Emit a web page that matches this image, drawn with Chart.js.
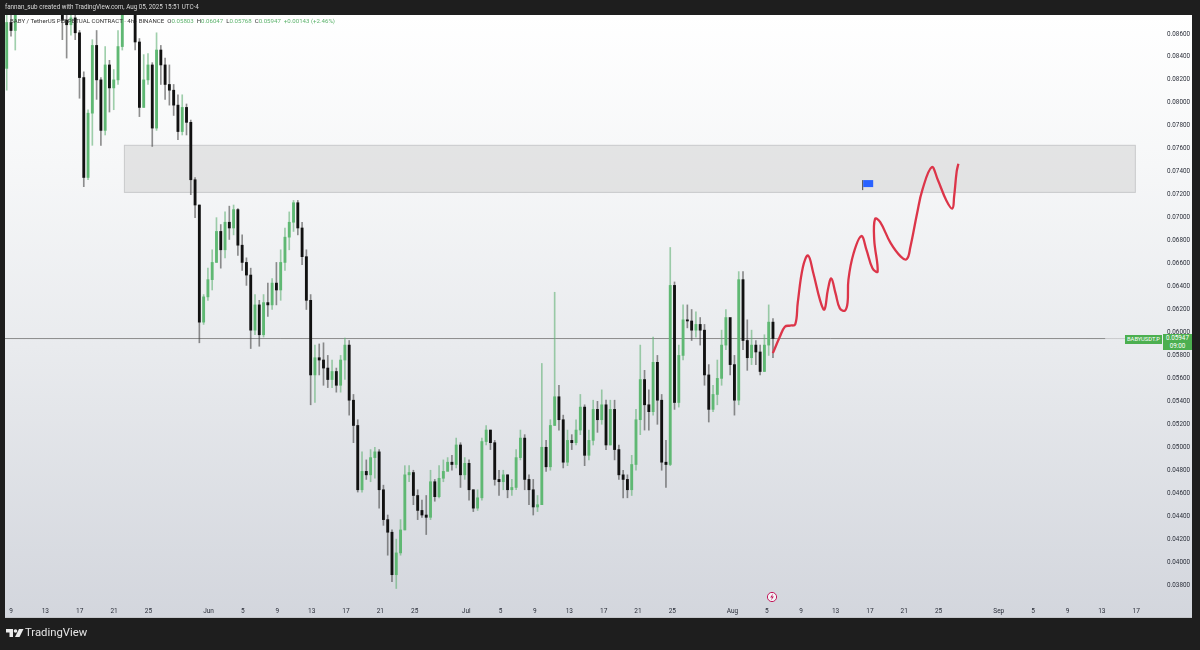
<!DOCTYPE html>
<html>
<head>
<meta charset="utf-8">
<title>BABYUSDT.P 4h</title>
<script src="https://cdn.jsdelivr.net/npm/chart.js@4"></script>
<style>
  html, body { margin: 0; padding: 0; background: #1e1e1e; overflow: hidden; }
  #wrap { position: relative; width: 1200px; height: 650px; background: #1e1e1e; font-family: Roboto, sans-serif; }
  #pane { position: absolute; left: 5px; top: 15px; width: 1187px; height: 603px; background: linear-gradient(#ffffff, #f6f7f8 25%, #e9ebee 55%, #d3d6dd); border-bottom: 1px solid #c4c6ca; box-sizing: border-box; }
  canvas { position: absolute; left: 0; top: 0; }
  .txt { position: absolute; white-space: nowrap; font-size: 6.3px; line-height: 8px; }
  #legend { font-size: 6.1px; }
  #legend b { font-weight: normal; color: #5cb36c; }
  .tag { position: absolute; background: #4caf50; color: #fff; font-size: 5.8px; text-align: center; }
</style>
</head>
<body>
<div id="wrap">
  <div id="pane"></div>
  <canvas id="chart" width="1200" height="650"></canvas>
  <div class="txt" style="left:5px;top:3px;color:#d8d8d8">fannan_sub created with TradingView.com, Aug 05, 2025 15:51 UTC-4</div>
  <div class="txt" id="legend" style="left:10px;top:17px;color:#333">BABY / TetherUS PERPETUAL CONTRACT · 4h · BINANCE &nbsp;O<b>0.05803</b> &nbsp;H<b>0.06047</b> &nbsp;L<b>0.05768</b> &nbsp;C<b>0.05947</b> &nbsp;<b>+0.00143 (+2.46%)</b></div>
  <div class="tag" style="left:1125px;top:335px;width:37px;height:9px;line-height:9px">BABYUSDT.P</div>
  <div class="tag" style="left:1163px;top:334px;width:29px;height:16px;line-height:7.5px;padding-top:1px;box-sizing:border-box;font-size:6.3px">0.05947<br>09:00</div>
  <svg style="position:absolute;left:766px;top:591px" width="12" height="12" viewBox="0 0 12 12">
    <circle cx="6" cy="6" r="4.6" fill="#f4f5f7" stroke="#c2185b" stroke-width="1"/>
    <path d="M7 2.5 L4.2 6.6 H6 L5 9.5 L7.9 5.4 H6.1 Z" fill="#c2185b"/>
  </svg>
  <svg style="position:absolute;left:6px;top:628px" width="18" height="10" viewBox="0 0 36 20">
    <path d="M0 2 H14 V18 H7 V9 H0 Z" fill="#ececec"/><circle cx="19" cy="6" r="3.6" fill="#ececec"/>
    <path d="M26 2 H35 L27 18 H18 Z" fill="#ececec"/>
  </svg>
  <div class="txt" style="left:25px;top:625px;color:#e6e6e6;font-size:11.3px;line-height:15px">TradingView</div>
</div>
<script>
// x axis is days counted from May 9
var tickDays = [0,4,8,12,16,23,27,31,35,39,43,47,53,57,61,65,69,73,77,84,88,92,96,100,104,108,115,119,123,127,131];
var tickNames = ['9','13','17','21','25','Jun','5','9','13','17','21','25','Jul','5','9','13','17','21','25','Aug','5','9','13','17','21','25','Sep','5','9','13','17'];

var firstDay = -0.5;
var barStep = 0.4984;
var firstOpen = 0.0830;

var closes = [
0.0870,0.0863,0.0879,0.0885,0.0890,0.0892,0.0888,0.0895,0.0890,0.0884,
0.0889,0.0893,0.0886,0.0872,0.0868,0.0874,0.0861,0.0822,0.0735,0.0791,
0.0850,0.0820,0.0776,0.0833,0.0813,0.0820,0.0849,0.0877,0.0885,0.0883,
0.0853,0.0796,0.0820,0.0833,0.0778,0.0846,0.0833,0.0816,0.0811,0.0798,
0.0775,0.0796,0.0783,0.0733,0.0711,0.0609,0.0631,0.0646,0.0661,0.0688,
0.0672,0.0696,0.0691,0.0707,0.0676,0.0661,0.0650,0.0602,0.0624,0.0598,
0.0626,0.0624,0.0643,0.0637,0.0661,0.0683,0.0696,0.0713,0.0691,0.0666,
0.0628,0.0563,0.0578,0.0576,0.0569,0.0559,0.0566,0.0554,0.0576,0.0589,
0.0541,0.0519,0.0463,0.0479,0.0476,0.0491,0.0496,0.0463,0.0437,0.0426,
0.0389,0.0408,0.0428,0.0476,0.0478,0.0458,0.0445,0.0441,0.0439,0.0470,
0.0457,0.0473,0.0479,0.0487,0.0485,0.0502,0.0476,0.0486,0.0463,0.0447,
0.0456,0.0505,0.0515,0.0504,0.0472,0.0470,0.0476,0.0463,0.0465,0.0491,
0.0508,0.0472,0.0463,0.0448,0.0450,0.0500,0.0483,0.0519,0.0544,0.0524,
0.0487,0.0506,0.0504,0.0515,0.0535,0.0493,0.0506,0.0533,0.0524,0.0537,
0.0502,0.0533,0.0498,0.0476,0.0472,0.0463,0.0485,0.0524,0.0559,0.0537,
0.0531,0.0574,0.0541,0.0487,0.0485,0.0641,0.0539,0.0580,0.0611,0.0610,
0.0602,0.0607,0.0602,0.0563,0.0533,0.0546,0.0560,0.0589,0.0613,0.0572,
0.0541,0.0646,0.0593,0.0578,0.0589,0.0583,0.0566,0.0589,0.0609,0.05947
];
var highs = [
0.0879,0.0881,0.0885,0.0890,0.0895,0.0897,0.0893,0.0900,0.0895,0.0889,
0.0894,0.0898,0.0891,0.0881,0.0881,0.0881,0.0881,0.0863,0.0827,0.0794,
0.0855,0.0863,0.0822,0.0849,0.0837,0.0829,0.0863,0.0883,0.0890,0.0890,
0.0885,0.0856,0.0842,0.0843,0.0835,0.0861,0.0850,0.0839,0.0833,0.0816,
0.0807,0.0807,0.0799,0.0785,0.0735,0.0711,0.0633,0.0656,0.0672,0.0700,
0.0694,0.0705,0.0710,0.0711,0.0708,0.0685,0.0665,0.0656,0.0633,0.0628,
0.0633,0.0643,0.0647,0.0661,0.0672,0.0691,0.0705,0.0715,0.0715,0.0696,
0.0672,0.0633,0.0589,0.0590,0.0591,0.0580,0.0576,0.0569,0.0580,0.0595,
0.0593,0.0546,0.0524,0.0496,0.0489,0.0498,0.0500,0.0498,0.0467,0.0441,
0.0428,0.0420,0.0437,0.0484,0.0484,0.0480,0.0463,0.0454,0.0458,0.0480,
0.0472,0.0484,0.0489,0.0491,0.0493,0.0508,0.0504,0.0491,0.0489,0.0463,
0.0463,0.0508,0.0519,0.0515,0.0506,0.0480,0.0480,0.0476,0.0472,0.0498,
0.0515,0.0511,0.0476,0.0472,0.0458,0.0573,0.0506,0.0524,0.0635,0.0554,
0.0528,0.0515,0.0511,0.0524,0.0546,0.0537,0.0515,0.0541,0.0540,0.0550,
0.0541,0.0541,0.0541,0.0502,0.0480,0.0476,0.0493,0.0533,0.0589,0.0567,
0.0550,0.0596,0.0580,0.0546,0.0506,0.0674,0.0644,0.0589,0.0624,0.0624,
0.0620,0.0618,0.0613,0.0607,0.0572,0.0554,0.0576,0.0602,0.0620,0.0611,
0.0580,0.0653,0.0653,0.0611,0.0602,0.0593,0.0589,0.0598,0.0624,0.0612
];
var lows = [
0.0811,0.0858,0.0846,0.0880,0.0884,0.0886,0.0883,0.0888,0.0884,0.0880,
0.0883,0.0885,0.0880,0.0855,0.0839,0.0859,0.0855,0.0804,0.0727,0.0733,
0.0763,0.0803,0.0763,0.0772,0.0792,0.0794,0.0816,0.0846,0.0879,0.0879,
0.0846,0.0788,0.0796,0.0816,0.0762,0.0776,0.0816,0.0803,0.0798,0.0789,
0.0768,0.0772,0.0772,0.0720,0.0700,0.0591,0.0607,0.0628,0.0637,0.0661,
0.0656,0.0665,0.0681,0.0685,0.0667,0.0654,0.0641,0.0586,0.0598,0.0588,
0.0596,0.0614,0.0620,0.0624,0.0628,0.0654,0.0672,0.0688,0.0685,0.0659,
0.0620,0.0537,0.0539,0.0563,0.0554,0.0552,0.0552,0.0548,0.0548,0.0559,
0.0528,0.0504,0.0461,0.0461,0.0472,0.0470,0.0473,0.0447,0.0432,0.0406,
0.0383,0.0377,0.0406,0.0428,0.0470,0.0450,0.0437,0.0439,0.0424,0.0437,
0.0453,0.0456,0.0470,0.0480,0.0480,0.0482,0.0465,0.0472,0.0454,0.0444,
0.0445,0.0454,0.0502,0.0498,0.0467,0.0458,0.0463,0.0456,0.0458,0.0463,
0.0489,0.0463,0.0450,0.0441,0.0444,0.0450,0.0479,0.0480,0.0519,0.0515,
0.0482,0.0484,0.0498,0.0502,0.0511,0.0484,0.0489,0.0502,0.0513,0.0520,
0.0498,0.0502,0.0489,0.0472,0.0456,0.0456,0.0458,0.0480,0.0511,0.0515,
0.0515,0.0528,0.0520,0.0480,0.0465,0.0484,0.0533,0.0535,0.0576,0.0604,
0.0593,0.0596,0.0589,0.0554,0.0522,0.0531,0.0537,0.0554,0.0585,0.0563,
0.0528,0.0537,0.0585,0.0567,0.0572,0.0572,0.0563,0.0566,0.0580,0.0578
];

// hand drawn projection
var sketchDays = [88.7,89.5,90.1,90.7,91.3,91.6,92.2,92.8,93.4,94.2,94.7,95.1,95.5,96.0,96.5,97.1,97.4,97.5,98.1,99.0,99.6,100.3,100.9,100.5,100.6,101.2,102.4,103.6,104.3,104.7,105.5,106.1,107.2,107.9,108.9,109.6,109.8,110.1,110.3];
var sketchPrices = [0.0582,0.0596,0.0605,0.0606,0.0607,0.0626,0.0657,0.0667,0.0652,0.0628,0.0620,0.0637,0.0647,0.0634,0.0621,0.0619,0.0626,0.0646,0.0669,0.0684,0.0672,0.0656,0.0653,0.0681,0.0699,0.0696,0.0678,0.0666,0.0664,0.0674,0.0704,0.0724,0.0744,0.0733,0.0715,0.0708,0.0718,0.0740,0.0747];

var zoneDays = [13.2, 130.9];
var zonePrices = [0.0722, 0.0763];
var flagDay = 99.1;
var flagPrice = 0.0724;
var lastPrice = 0.05947;
var lastLineDays = [-0.7, 127.4];

var wickData = [], bodyData = [], wickColors = [], bodyColors = [];
for (var i = 0; i < closes.length; i++) {
  var open = i == 0 ? firstOpen : closes[i - 1];
  var day = firstDay + i * barStep;
  var up = closes[i] >= open;
  wickData.push({ x: day, y: [lows[i], highs[i]] });
  bodyData.push({ x: day, y: [Math.min(open, closes[i]), Math.max(open, closes[i])] });
  wickColors.push(up ? 'rgba(96,176,116,0.6)' : 'rgba(70,70,70,0.6)');
  bodyColors.push(up ? '#5fb873' : '#111111');
}

var sketchData = sketchDays.map(function (d, n) { return { x: d, y: sketchPrices[n] }; });

var zonePlugin = {
  id: 'zone',
  beforeDatasetsDraw: function (chart) {
    var ctx = chart.ctx, xs = chart.scales.x, ys = chart.scales.y;
    var x0 = xs.getPixelForValue(zoneDays[0]), x1 = xs.getPixelForValue(zoneDays[1]);
    var y0 = ys.getPixelForValue(zonePrices[1]), y1 = ys.getPixelForValue(zonePrices[0]);
    ctx.save();
    ctx.fillStyle = 'rgba(200,200,200,0.42)';
    ctx.strokeStyle = '#c8c9cb';
    ctx.lineWidth = 1;
    ctx.fillRect(x0, y0, x1 - x0, y1 - y0);
    ctx.strokeRect(x0, y0, x1 - x0, y1 - y0);
    // faded tail of the last price line
    var lx = xs.getPixelForValue(lastLineDays[1]), ly = ys.getPixelForValue(lastPrice);
    ctx.strokeStyle = 'rgba(140,140,140,0.35)';
    ctx.beginPath();
    ctx.moveTo(lx, ly);
    ctx.lineTo(lx + 20, ly);
    ctx.stroke();
    ctx.restore();
  },
  afterDatasetsDraw: function (chart) {
    var ctx = chart.ctx;
    var fx = chart.scales.x.getPixelForValue(flagDay), fy = chart.scales.y.getPixelForValue(flagPrice);
    ctx.save();
    ctx.fillStyle = '#444';
    ctx.fillRect(fx, fy - 10, 1, 10);
    ctx.fillStyle = '#2962ff';
    ctx.fillRect(fx + 1, fy - 10, 10, 7);
    ctx.restore();
  }
};

new Chart(document.getElementById('chart'), {
  type: 'bar',
  plugins: [zonePlugin],
  data: {
    datasets: [
      { type: 'line', data: sketchData, borderColor: '#dc3549', borderWidth: 2.3, pointRadius: 0, tension: 0.4, order: 0 },
      { data: bodyData, backgroundColor: bodyColors, barThickness: 2.2, grouped: false, order: 1 },
      { data: wickData, backgroundColor: wickColors, barThickness: 1, grouped: false, order: 2 },
      { type: 'line', data: lastLineDays.map(function (d) { return { x: d, y: lastPrice }; }), borderColor: '#8c8c8c', borderWidth: 1, pointRadius: 0, order: 3 }
    ]
  },
  options: {
    responsive: false,
    animation: false,
    events: [],
    layout: { padding: { left: 5, top: 15, right: 8, bottom: 32 } },
    plugins: { legend: { display: false }, tooltip: { enabled: false } },
    scales: {
      x: {
        type: 'linear',
        offset: false,
        min: -0.7,
        max: 137.5,
        border: { display: false },
        grid: { display: false, drawTicks: false },
        afterFit: function (scale) { scale.height = 14; },
        afterBuildTicks: function (scale) {
          scale.ticks = tickDays.map(function (d) { return { value: d }; });
        },
        ticks: {
          autoSkip: false,
          maxRotation: 0,
          padding: 3,
          color: '#2a2e39',
          font: { family: 'Roboto', size: 6.5 },
          callback: function (v) { return tickNames[tickDays.indexOf(v)]; }
        }
      },
      y: {
        position: 'right',
        min: 0.03635,
        max: 0.08765,
        border: { display: false },
        grid: { display: false, drawTicks: false },
        afterFit: function (scale) { scale.width = 0; },
        ticks: {
          mirror: true,
          padding: -2,
          stepSize: 0.002,
          includeBounds: false,
          color: '#2a2e39',
          font: { family: 'Roboto', size: 6.3 },
          callback: function (v) { return v.toFixed(5); }
        }
      }
    }
  }
});
</script>
</body>
</html>
